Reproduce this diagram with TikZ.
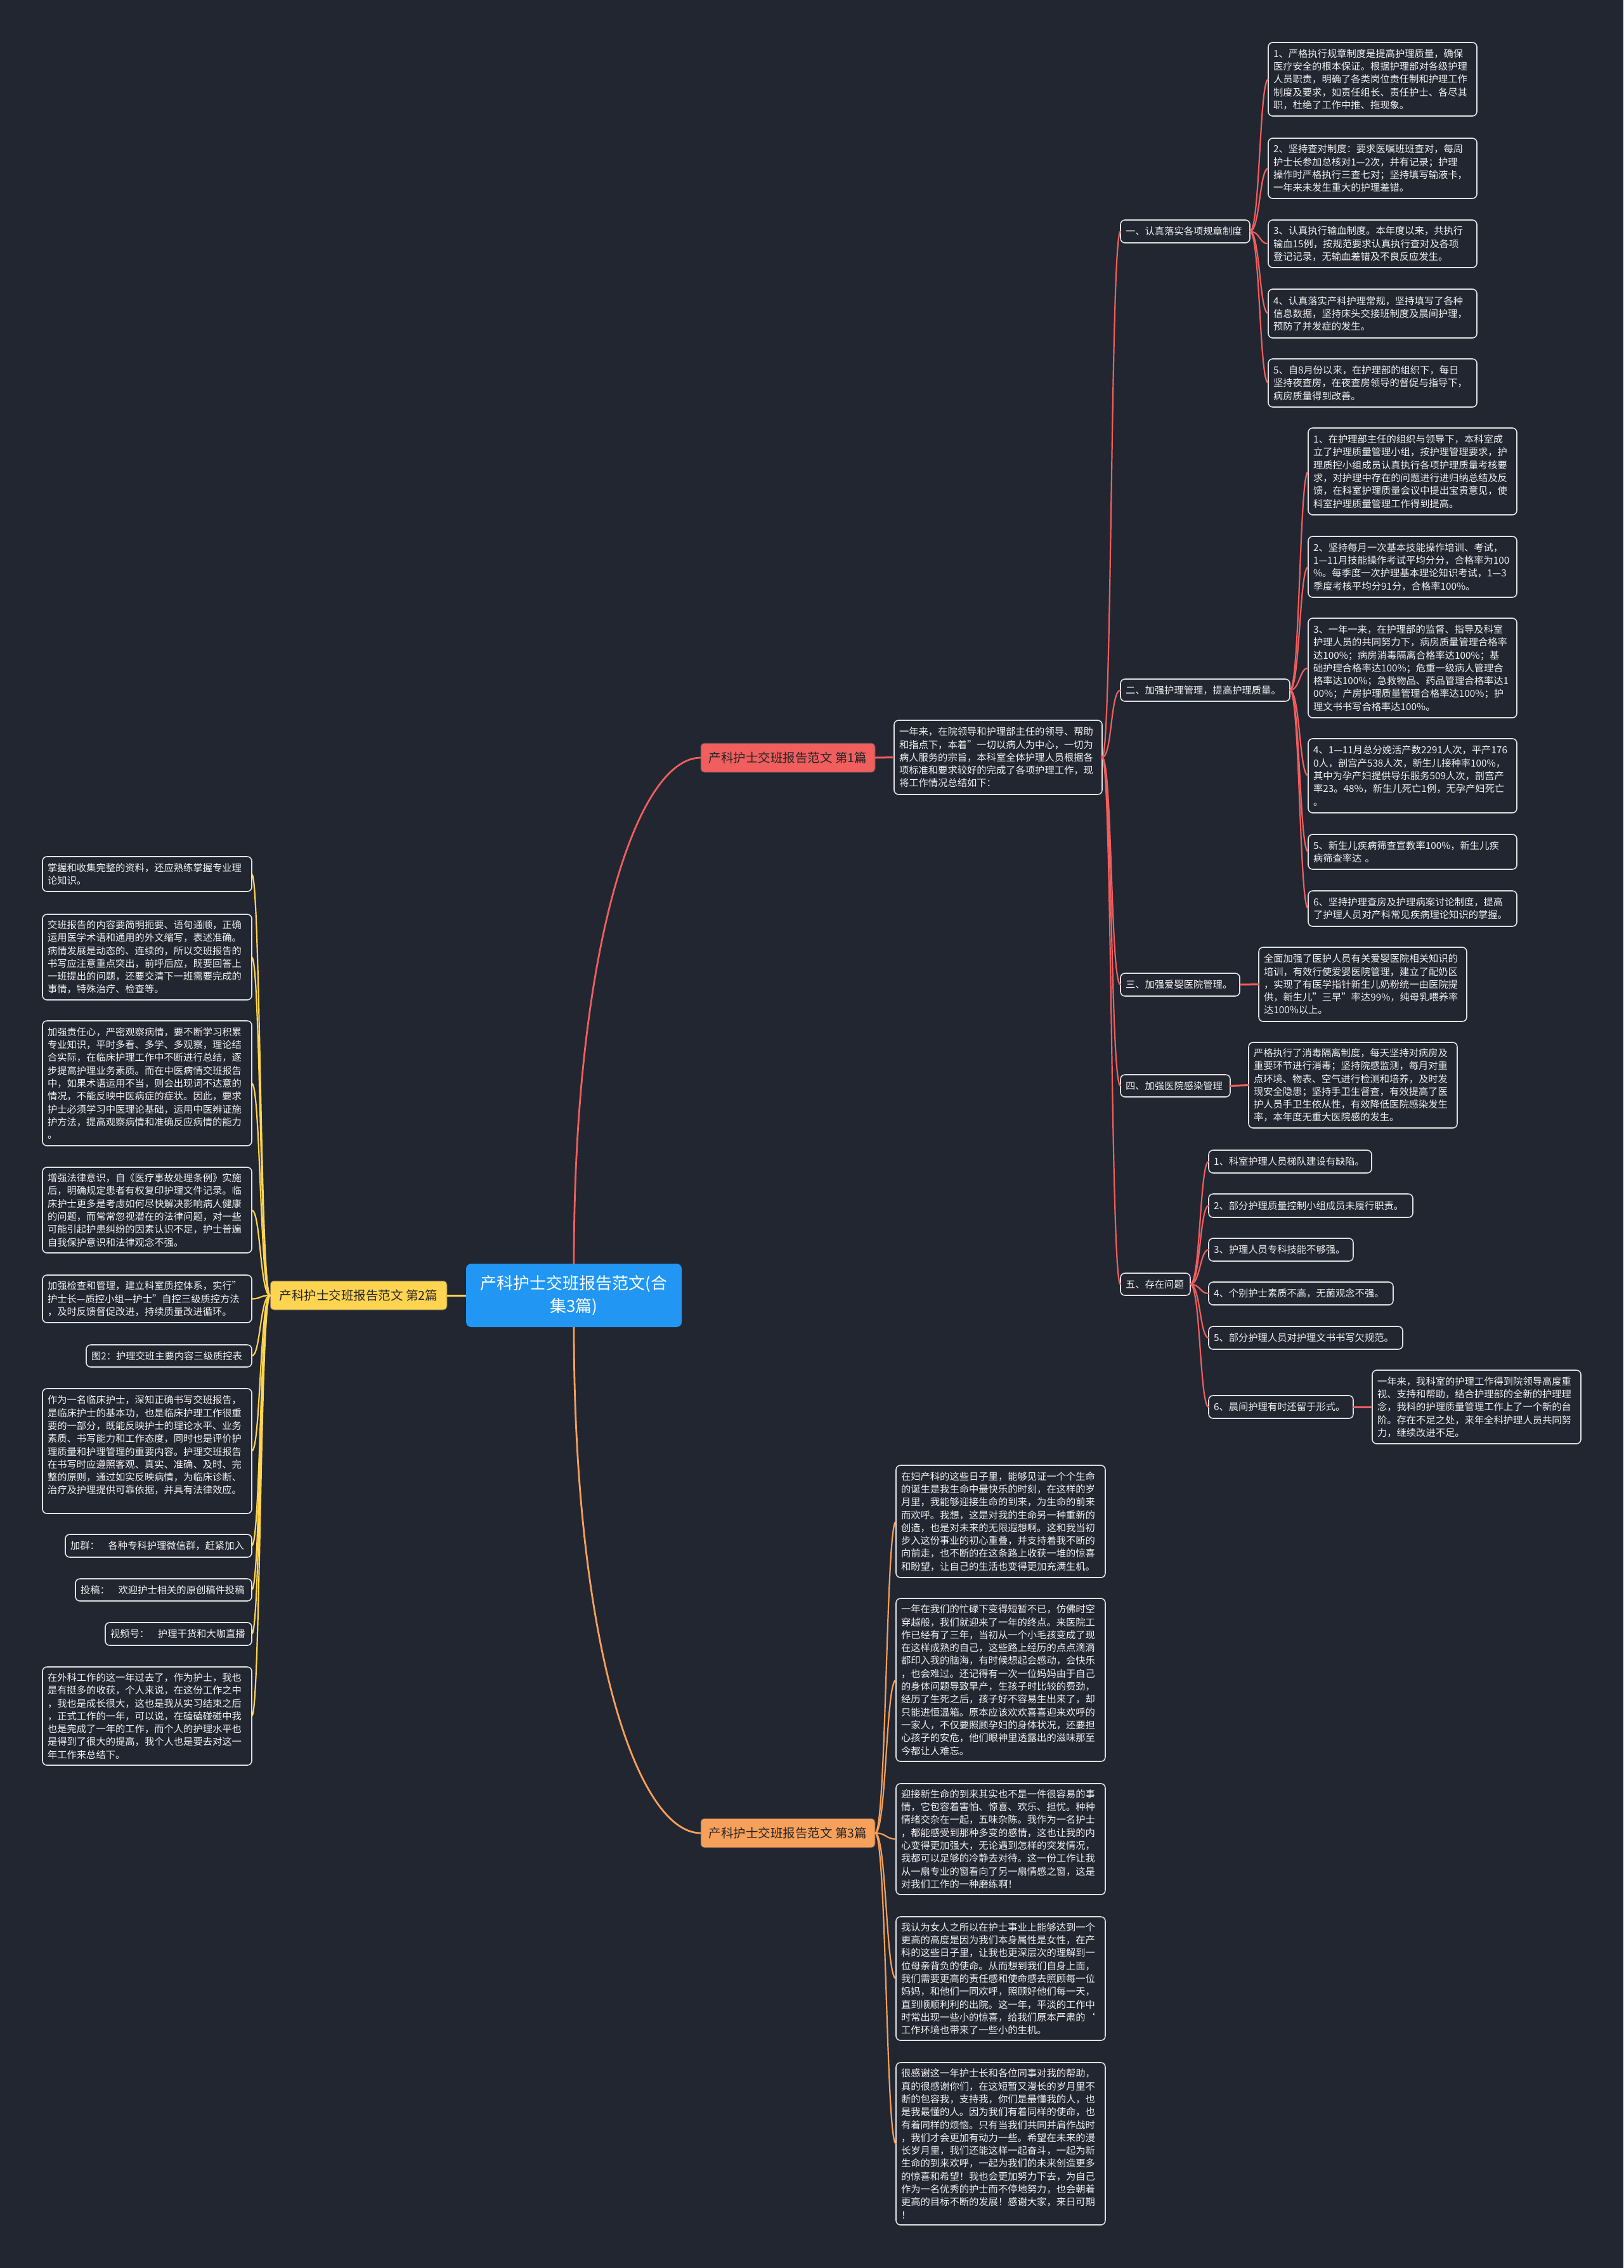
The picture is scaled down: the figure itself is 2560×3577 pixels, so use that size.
\documentclass[tikz,border=0pt]{standalone}
\usepackage{fontspec}
\setmainfont{Noto Sans CJK SC}
\definecolor{bg}{RGB}{34,38,49}
\definecolor{boxline}{RGB}{225,225,228}
\definecolor{txt}{RGB}{240,240,240}
\definecolor{cred}{RGB}{240,94,94}
\definecolor{cyel}{RGB}{255,212,80}
\definecolor{corg}{RGB}{247,160,90}
\definecolor{cblue}{RGB}{33,150,243}
\hfuzz=20pt
\newcommand\lf{\fontsize{15.3}{20.3}\selectfont}
\newcommand\bx[6]{%
  \pgfmathsetmacro\bw{#4-#2}\pgfmathsetmacro\bh{#5-#3}\pgfmathsetmacro\tw{#4-#2-16}%
  \node[leaf, minimum width=\bw pt, minimum height=\bh pt, text width=\tw pt] (#1) at ({(#2+#4)/2},{(#3+#5)/2}) {#6};}
\newcommand\br[7]{%
  \pgfmathsetmacro\bw{#4-#2}\pgfmathsetmacro\bh{#5-#3}%
  \node[branch, fill=#6, minimum width=\bw pt, minimum height=\bh pt] (#1) at ({(#2+#4)/2},{(#3+#5)/2}) {#7};}
\begin{document}
\begin{tikzpicture}[x=1pt,y=-1pt,
  leaf/.style={draw=boxline, line width=1.6pt, fill=bg, rounded corners=7pt, text=txt, font=\lf, align=left, inner xsep=8pt, inner ysep=0pt, outer sep=0pt},
  branch/.style={draw=black!70, line width=1pt, rounded corners=6pt, text=black!85, font=\fontsize{19.5}{24}\selectfont, inner sep=0pt, outer sep=0pt},
  rl/.style={draw=cred, line width=2.2pt},
  yl/.style={draw=cyel, line width=2.2pt},
  ol/.style={draw=corg, line width=2.2pt}]
\fill[bg] (0,0) rectangle (2560,3577);
\useasboundingbox (0,0) rectangle (2560,3577);

% root
\node[fill=cblue, rounded corners=8pt, minimum width=340pt, minimum height=100pt, text=white, align=center, font=\fontsize{26}{36}\selectfont, inner sep=0pt, outer sep=0pt] (root) at (905,2043) {产科护士交班报告范文(合\\集3篇)};

\br{b1}{1105}{1172}{1380}{1218}{cred}{产科护士交班报告范文 第1篇}
\br{b2}{426}{2020}{705}{2066}{cyel}{产科护士交班报告范文 第2篇}
\br{b3}{1105}{2868}{1380}{2914}{corg}{产科护士交班报告范文 第3篇}

% branch 1
\bx{intro}{1410}{1136}{1738}{1253}{一年来，在院领导和护理部主任的领导、帮助\\和指点下，本着"一切以病人为中心，一切为\\病人服务的宗旨，本科室全体护理人员根据各\\项标准和要求较好的完成了各项护理工作，现\\将工作情况总结如下：}

\bx{sA}{1767}{347}{1971}{383}{一、认真落实各项规章制度}
\bx{sB}{1767}{1071}{2034}{1106}{二、加强护理管理，提高护理质量。}
\bx{sC}{1767}{1535}{1955}{1571}{三、加强爱婴医院管理。}
\bx{sD}{1767}{1695}{1940}{1730}{四、加强医院感染管理}
\bx{sE}{1767}{2008}{1877}{2043}{五、存在问题}

\bx{a1}{2000}{67}{2329}{183}{1、严格执行规章制度是提高护理质量，确保\\医疗安全的根本保证。根据护理部对各级护理\\人员职责，明确了各类岗位责任制和护理工作\\制度及要求，如责任组长、责任护士、各尽其\\职，杜绝了工作中推、拖现象。}
\bx{a2}{2000}{218}{2329}{313}{2、坚持查对制度：要求医嘱班班查对，每周\\护士长参加总核对1—2次，并有记录；护理\\操作时严格执行三查七对；坚持填写输液卡，\\一年来未发生重大的护理差错。}
\bx{a3}{2000}{347}{2329}{422}{3、认真执行输血制度。本年度以来，共执行\\输血15例，按规范要求认真执行查对及各项\\登记记录，无输血差错及不良反应发生。}
\bx{a4}{2000}{456}{2329}{533}{4、认真落实产科护理常规，坚持填写了各种\\信息数据，坚持床头交接班制度及晨间护理，\\预防了并发症的发生。}
\bx{a5}{2000}{566}{2329}{642}{5、自8月份以来，在护理部的组织下，每日\\坚持夜查房，在夜查房领导的督促与指导下，\\病房质量得到改善。}

\bx{c1}{2063}{675}{2392}{812}{1、在护理部主任的组织与领导下，本科室成\\立了护理质量管理小组，按护理管理要求，护\\理质控小组成员认真执行各项护理质量考核要\\求，对护理中存在的问题进行进归纳总结及反\\馈，在科室护理质量会议中提出宝贵意见，使\\科室护理质量管理工作得到提高。}
\bx{c2}{2063}{846}{2392}{942}{2、坚持每月一次基本技能操作培训、考试，\\1—11月技能操作考试平均分分，合格率为100\\\%。每季度一次护理基本理论知识考试，1—3\\季度考核平均分91分，合格率100\%。}
\bx{c3}{2063}{975}{2392}{1132}{3、一年一来，在护理部的监督、指导及科室\\护理人员的共同努力下，病房质量管理合格率\\达100\%；病房消毒隔离合格率达100\%；基\\础护理合格率达100\%；危重一级病人管理合\\格率达100\%；急救物品、药品管理合格率达1\\00\%；产房护理质量管理合格率达100\%；护\\理文书书写合格率达100\%。}
\bx{c4}{2063}{1165}{2392}{1282}{4、1—11月总分娩活产数2291人次，平产176\\0人，剖宫产538人次，新生儿接种率100\%，\\其中为孕产妇提供导乐服务509人次，剖宫产\\率23。48\%，新生儿死亡1例，无孕产妇死亡\\。}
\bx{c5}{2063}{1316}{2392}{1371}{5、新生儿疾病筛查宣教率100\%，新生儿疾\\病筛查率达 。}
\bx{c6}{2063}{1405}{2392}{1461}{6、坚持护理查房及护理病案讨论制度，提高\\了护理人员对产科常见疾病理论知识的掌握。}

\bx{dC}{1985}{1494}{2313}{1611}{全面加强了医护人员有关爱婴医院相关知识的\\培训，有效行使爱婴医院管理，建立了配奶区\\，实现了有医学指针新生儿奶粉统一由医院提\\供，新生儿"三早"率达99\%，纯母乳喂养率\\达100\%以上。}
\bx{dD}{1969}{1644}{2298}{1779}{严格执行了消毒隔离制度，每天坚持对病房及\\重要环节进行消毒；坚持院感监测，每月对重\\点环境、物表、空气进行检测和培养，及时发\\现安全隐患；坚持手卫生督查，有效提高了医\\护人员手卫生依从性，有效降低医院感染发生\\率，本年度无重大医院感的发生。}

\bx{e1}{1906}{1814}{2163}{1850}{1、科室护理人员梯队建设有缺陷。}
\bx{e2}{1906}{1883}{2228}{1920}{2、部分护理质量控制小组成员未履行职责。}
\bx{e3}{1906}{1953}{2134}{1989}{3、护理人员专科技能不够强。}
\bx{e4}{1906}{2022}{2197}{2058}{4、个别护士素质不高，无菌观念不强。}
\bx{e5}{1906}{2092}{2212}{2128}{5、部分护理人员对护理文书书写欠规范。}
\bx{e6}{1906}{2201}{2134}{2237}{6、晨间护理有时还留于形式。}
\bx{f6}{2164}{2161}{2493}{2277}{一年来，我科室的护理工作得到院领导高度重\\视、支持和帮助，结合护理部的全新的护理理\\念，我科的护理质量管理工作上了一个新的台\\阶。存在不足之处，来年全科护理人员共同努\\力，继续改进不足。}

% branch 2
\bx{l1}{67}{1351}{397}{1406}{掌握和收集完整的资料，还应熟练掌握专业理\\论知识。}
\bx{l2}{67}{1442}{397}{1577}{交班报告的内容要简明扼要、语句通顺，正确\\运用医学术语和通用的外文缩写，表述准确。\\病情发展是动态的、连续的，所以交班报告的\\书写应注意重点突出，前呼后应，既要回答上\\一班提出的问题，还要交清下一班需要完成的\\事情，特殊治疗、检查等。}
\bx{l3}{67}{1610}{397}{1807}{加强责任心，严密观察病情，要不断学习积累\\专业知识，平时多看、多学、多观察，理论结\\合实际，在临床护理工作中不断进行总结，逐\\步提高护理业务素质。而在中医病情交班报告\\中，如果术语运用不当，则会出现词不达意的\\情况，不能反映中医病症的症状。因此，要求\\护士必须学习中医理论基础，运用中医辨证施\\护方法，提高观察病情和准确反应病情的能力\\。}
\bx{l4}{67}{1841}{397}{1976}{增强法律意识，自《医疗事故处理条例》实施\\后，明确规定患者有权复印护理文件记录。临\\床护士更多是考虑如何尽快解决影响病人健康\\的问题，而常常忽视潜在的法律问题，对一些\\可能引起护患纠纷的因素认识不足，护士普遍\\自我保护意识和法律观念不强。}
\bx{l5}{67}{2011}{397}{2086}{加强检查和管理，建立科室质控体系，实行"\\护士长—质控小组—护士"自控三级质控方法\\，及时反馈督促改进，持续质量改进循环。}
\bx{l6}{136}{2121}{397}{2156}{图2：护理交班主要内容三级质控表}
\bx{l7}{67}{2190}{397}{2387}{作为一名临床护士，深知正确书写交班报告，\\是临床护士的基本功，也是临床护理工作很重\\要的一部分，既能反映护士的理论水平、业务\\素质、书写能力和工作态度，同时也是评价护\\理质量和护理管理的重要内容。护理交班报告\\在书写时应遵照客观、真实、准确、及时、完\\整的原则，通过如实反映病情，为临床诊断、\\治疗及护理提供可靠依据，并具有法律效应。\\\mbox{}}
\bx{l8}{103}{2420}{397}{2456}{加群：\hspace{0.9em}各种专科护理微信群，赶紧加入}
\bx{l9}{119}{2490}{397}{2525}{投稿：\hspace{0.9em}欢迎护士相关的原创稿件投稿}
\bx{l10}{166}{2559}{397}{2595}{视频号：\hspace{0.9em}护理干货和大咖直播}
\bx{l11}{67}{2629}{397}{2784}{在外科工作的这一年过去了，作为护士，我也\\是有挺多的收获，个人来说，在这份工作之中\\，我也是成长很大，这也是我从实习结束之后\\，正式工作的一年，可以说，在磕磕碰碰中我\\也是完成了一年的工作，而个人的护理水平也\\是得到了很大的提高，我个人也是要去对这一\\年工作来总结下。}

% branch 3
\bx{g1}{1413}{2311}{1743}{2488}{在妇产科的这些日子里，能够见证一个个生命\\的诞生是我生命中最快乐的时刻，在这样的岁\\月里，我能够迎接生命的到来，为生命的前来\\而欢呼。我想，这是对我的生命另一种重新的\\创造，也是对未来的无限遐想啊。这和我当初\\步入这份事业的初心重叠，并支持着我不断的\\向前走，也不断的在这条路上收获一堆的惊喜\\和盼望，让自己的生活也变得更加充满生机。}
\bx{g2}{1413}{2521}{1743}{2778}{一年在我们的忙碌下变得短暂不已，仿佛时空\\穿越般，我们就迎来了一年的终点。来医院工\\作已经有了三年，当初从一个小毛孩变成了现\\在这样成熟的自己，这些路上经历的点点滴滴\\都印入我的脑海，有时候想起会感动，会快乐\\，也会难过。还记得有一次一位妈妈由于自己\\的身体问题导致早产，生孩子时比较的费劲，\\经历了生死之后，孩子好不容易生出来了，却\\只能进恒温箱。原本应该欢欢喜喜迎来欢呼的\\一家人，不仅要照顾孕妇的身体状况，还要担\\心孩子的安危，他们眼神里透露出的滋味那至\\今都让人难忘。}
\bx{g3}{1413}{2813}{1743}{2988}{迎接新生命的到来其实也不是一件很容易的事\\情，它包容着害怕、惊喜、欢乐、担忧。种种\\情绪交杂在一起，五味杂陈。我作为一名护士\\，都能感受到那种多变的感情，这也让我的内\\心变得更加强大，无论遇到怎样的突发情况，\\我都可以足够的冷静去对待。这一份工作让我\\从一扇专业的窗看向了另一扇情感之窗，这是\\对我们工作的一种磨练啊！}
\bx{g4}{1413}{3023}{1743}{3218}{我认为女人之所以在护士事业上能够达到一个\\更高的高度是因为我们本身属性是女性，在产\\科的这些日子里，让我也更深层次的理解到一\\位母亲背负的使命。从而想到我们自身上面，\\我们需要更高的责任感和使命感去照顾每一位\\妈妈，和他们一同欢呼，照顾好他们每一天，\\直到顺顺利利的出院。这一年，平淡的工作中\\时常出现一些小的惊喜，给我们原本严肃的{`}\\工作环境也带来了一些小的生机。}
\bx{g5}{1413}{3253}{1743}{3509}{很感谢这一年护士长和各位同事对我的帮助，\\真的很感谢你们，在这短暂又漫长的岁月里不\\断的包容我，支持我，你们是最懂我的人，也\\是我最懂的人。因为我们有着同样的使命，也\\有着同样的烦恼。只有当我们共同并肩作战时\\，我们才会更加有动力一些。希望在未来的漫\\长岁月里，我们还能这样一起奋斗，一起为新\\生命的到来欢呼，一起为我们的未来创造更多\\的惊喜和希望！我也会更加努力下去，为自己\\作为一名优秀的护士而不停地努力，也会朝着\\更高的目标不断的发展！感谢大家，来日可期\\！}

% connectors
\draw[rl, line width=2.8pt] (root.north) .. controls +(0,-500) and +(-100,0) .. (b1.west);
\draw[ol, line width=2.8pt] (root.south) .. controls +(0,500) and +(-100,0) .. (b3.west);
\draw[yl, line width=3pt] (root.west) -- (b2.east);

\draw[rl, line width=3pt] (b1.east) -- (intro.west);
\foreach \t in {sA,sB,sC,sD,sE}
  \draw[rl] (intro.east) .. controls +(16,0) and +(-16,0) .. (\t.west);
\foreach \t in {a1,a2,a3,a4,a5}
  \draw[rl] (sA.east) .. controls +(16,0) and +(-14,0) .. (\t.west);
\foreach \t in {c1,c2,c3,c4,c5,c6}
  \draw[rl] (sB.east) .. controls +(16,0) and +(-14,0) .. (\t.west);
\draw[rl, line width=3pt] (sC.east) -- (dC.west);
\draw[rl, line width=3pt] (sD.east) -- (dD.west);
\foreach \t in {e1,e2,e3,e4,e5,e6}
  \draw[rl] (sE.east) .. controls +(16,0) and +(-14,0) .. (\t.west);
\draw[rl, line width=3pt] (e6.east) -- (f6.west);

\foreach \t in {l1,l2,l3,l4,l5,l6,l7,l8,l9,l10,l11}
  \draw[yl] (b2.west) .. controls +(-16,0) and +(14,0) .. (\t.east);
\foreach \t in {g1,g2,g3,g4,g5}
  \draw[ol] (b3.east) .. controls +(18,0) and +(-16,0) .. (\t.west);
\end{tikzpicture}
\end{document}
